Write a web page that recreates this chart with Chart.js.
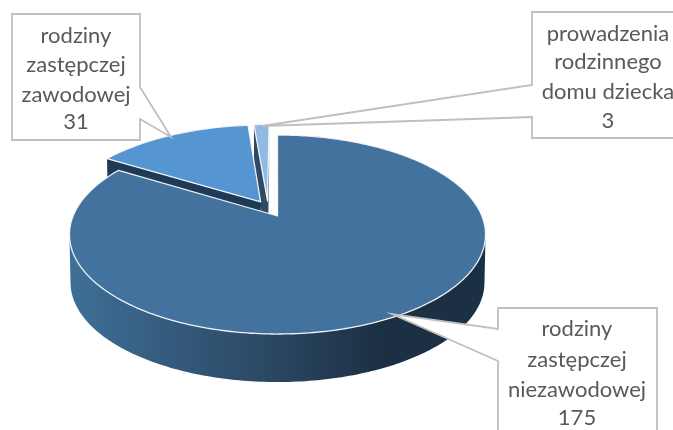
<!DOCTYPE html>
<html>
<head>
<meta charset="utf-8">
<style>
html, body { margin: 0; padding: 0; background: #fff; overflow: hidden; }
canvas { display: block; }
</style>
</head>
<body>
<canvas id="myChart" width="673" height="430"></canvas>
<script src="https://cdn.jsdelivr.net/npm/chart.js@4"></script>
<script>
const ctx = document.getElementById('myChart');

const categories = ['rodziny zastępczej niezawodowej', 'rodziny zastępczej zawodowej', 'prowadzenia rodzinnego domu dziecka'];
const values = [175, 31, 3];
const labelLines = [['rodziny', 'zastępczej', 'niezawodowej'], ['rodziny', 'zastępczej', 'zawodowej'], ['prowadzenia', 'rodzinnego', 'domu dziecka']];

const faceColors = ['#44729f', '#5596d2', '#91b9e1'];

// how the flat pie sits in the page (perspective of the tilted disc)
const cx = 277.5, apexY = 216, radius = 204.4, tiltA = 55.9, tiltC = -0.186;
const depth = 48, bottomScale = 0.995;
const explodeU = [0, -0.085, -0.05];
const explodeV = [0, -0.15, -0.16];

// callout boxes, same order as the data
const boxes = [
  { x: 498, y: 308, w: 159, h: 140, textX: 577, textY: [329, 360, 390, 418], root: [[498, 329], [498, 361]], tip: [392, 314] },
  { x: 12, y: 14, w: 128, h: 126, textX: 76, textY: [36, 65, 95, 122], root: [[140, 87], [140, 119]], tip: [171, 137] },
  { x: 532, y: 12, w: 160, h: 126, textX: 608, textY: [34, 62, 92, 121], root: [[532, 85], [532, 117]], tip: [262, 126] }
];

function project(u, v, low) {
  const den = 1 + tiltC * v;
  const s = low ? bottomScale : 1;
  return [cx + radius * s * u / den, (tiltA * v + apexY) / den + (low ? depth : 0)];
}

function arcPoints(arc, i, low) {
  const a0 = arc.startAngle + Math.PI / 2, a1 = arc.endAngle + Math.PI / 2;
  const steps = Math.max(4, Math.ceil((a1 - a0) * 60));
  const pts = [];
  for (let k = 0; k <= steps; k++) {
    const a = a0 + (a1 - a0) * k / steps;
    pts.push(project(Math.sin(a) + explodeU[i], -Math.cos(a) + explodeV[i], low));
  }
  return pts;
}

function tracePoly(c, pts) {
  c.beginPath();
  addPoly(c, pts);
}

function addPoly(c, pts) {
  pts.forEach((p, k) => k ? c.lineTo(p[0], p[1]) : c.moveTo(p[0], p[1]));
  c.closePath();
}

// same winding for every quad, otherwise the fold at the disc's sides cancels out
function addQuad(c, q) {
  let area = 0;
  q.forEach((p, k) => {
    const n = q[(k + 1) % q.length];
    area += p[0] * n[1] - n[0] * p[1];
  });
  addPoly(c, area < 0 ? q.slice().reverse() : q);
}

function wallFill(c, i) {
  if (i === 1) return '#1e3a55';
  if (i === 2) return '#2e4a64';
  const g = c.createLinearGradient(69, 0, 486, 0);
  g.addColorStop(0, '#3f6f98');
  g.addColorStop(0.45, '#2c4a66');
  g.addColorStop(0.75, '#1c3044');
  g.addColorStop(1, '#1c3044');
  return g;
}

const pie3d = {
  id: 'pie3d',
  beforeDatasetDraw(chart) {
    const c = chart.ctx;
    const arcs = chart.getDatasetMeta(0).data;
    c.save();
    // back slices first, the big one covers them
    for (let i = arcs.length - 1; i >= 0; i--) {
      const top = arcPoints(arcs[i], i, false);
      const low = arcPoints(arcs[i], i, true);
      const apex = project(explodeU[i], explodeV[i], false);
      const apexLow = project(explodeU[i], explodeV[i], true);
      c.fillStyle = wallFill(c, i);
      c.beginPath();
      for (let k = 0; k < top.length - 1; k++) {
        addQuad(c, [top[k], top[k + 1], low[k + 1], low[k]]);
      }
      addQuad(c, [apex, top[0], low[0], apexLow]);
      addQuad(c, [apex, top[top.length - 1], low[low.length - 1], apexLow]);
      c.fill();
      tracePoly(c, [apex].concat(top));
      c.fillStyle = faceColors[i];
      c.fill();
      c.strokeStyle = 'rgba(255,255,255,0.9)';
      c.lineWidth = 1.3;
      c.lineJoin = 'round';
      c.stroke();
    }
    c.restore();
    return false;
  },
  afterDraw(chart) {
    const c = chart.ctx;
    c.save();
    boxes.forEach((b, i) => {
      // box with its pointer as one outline
      c.beginPath();
      c.strokeStyle = '#bfbfbf';
      c.lineWidth = 1.8;
      c.fillStyle = '#fff';
      if (i === 0) {
        c.moveTo(b.x, b.y + b.h); c.lineTo(b.x, b.root[1][1]); c.lineTo(b.tip[0], b.tip[1]); c.lineTo(b.x, b.root[0][1]);
        c.lineTo(b.x, b.y); c.lineTo(b.x + b.w, b.y); c.lineTo(b.x + b.w, b.y + b.h);
      } else if (i === 1) {
        c.moveTo(b.x + b.w, b.root[0][1]); c.lineTo(b.x + b.w, b.y); c.lineTo(b.x, b.y); c.lineTo(b.x, b.y + b.h);
        c.lineTo(b.x + b.w, b.y + b.h); c.lineTo(b.x + b.w, b.root[1][1]); c.lineTo(b.tip[0], b.tip[1]); c.lineTo(b.x + b.w, b.root[0][1]);
      } else {
        c.moveTo(b.x + b.w, b.y + b.h); c.lineTo(b.x, b.y + b.h); c.lineTo(b.x, b.root[1][1]); c.lineTo(b.tip[0], b.tip[1]);
        c.lineTo(b.x, b.root[0][1]); c.lineTo(b.x, b.y); c.lineTo(b.x + b.w, b.y);
      }
      c.closePath();
      c.fill();
      c.stroke();

      c.fillStyle = '#595959';
      c.font = '22px Lato';
      c.textAlign = 'center';
      c.textBaseline = 'middle';
      labelLines[i].concat(String(values[i])).forEach((t, k) => c.fillText(t, b.textX, b.textY[k]));
    });
    c.restore();
  }
};

let chart_1 = new Chart(ctx, {
  type: 'pie',
  data: {
    labels: categories,
    datasets: [{
      data: values,
      backgroundColor: faceColors,
      borderColor: '#fff'
    }]
  },
  options: {
    responsive: false,
    animation: false,
    plugins: {
      legend: { display: false },
      tooltip: { enabled: false }
    }
  },
  plugins: [pie3d]
});
</script>
</body>
</html>
